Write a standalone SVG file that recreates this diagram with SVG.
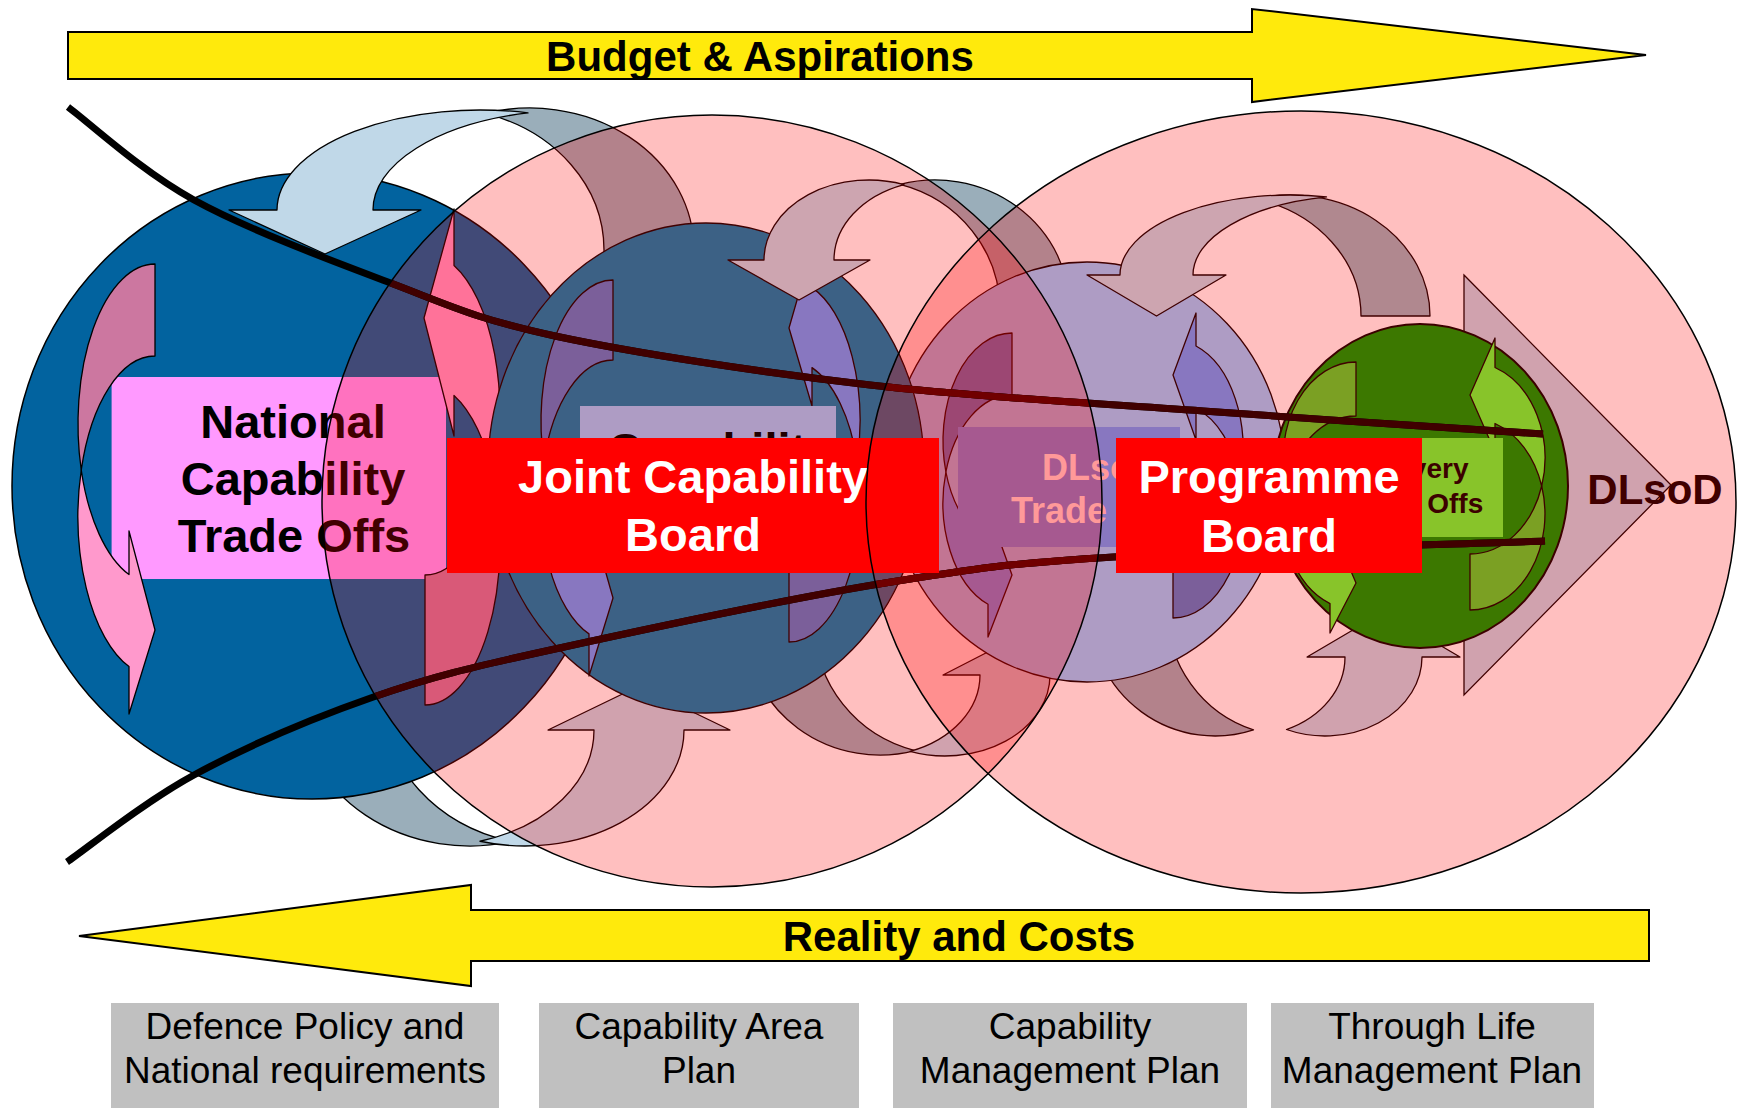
<svg xmlns="http://www.w3.org/2000/svg" width="1739" height="1108" viewBox="0 0 1739 1108">
<style>
text{font-family:"Liberation Sans",Arial,Helvetica,sans-serif}
.bd{font-weight:bold}
.k{stroke:#000;stroke-width:1.3;stroke-linejoin:round}
.m{stroke:#400000;stroke-width:1.3;stroke-linejoin:round}
.lb{fill:#C0D8E8}
.sl{fill:#9AAEBA}
.ml{fill:#CDA5B0}
.md{fill:#B0888F}
.pl{fill:#FF99CC}
.pd{fill:#CC77A0}
.vl{fill:#8877C0}
.vd{fill:#7B5F9A}
.gl{fill:#88C42A}
.gd{fill:#7BA023}
.red25{fill:#FF0000;fill-opacity:0.25}
.edge{fill:none;stroke:#000;stroke-width:1.5}
.ln{fill:none;stroke-width:7}
.yel{fill:#FFEA0C;stroke:#000;stroke-width:2}
.gray{fill:#C0C0C0}
.board{fill:#FF0000}
.plan{font-size:37px;fill:#000}
.big{font-size:47px;font-weight:bold}
</style>
<defs>
<ellipse id="eMid" cx="712" cy="501" rx="390" ry="386"/>
<ellipse id="eRight" cx="1301" cy="502" rx="435" ry="391"/>
<clipPath id="cMid"><ellipse cx="712" cy="501" rx="390" ry="386"/></clipPath>
<clipPath id="cRight"><ellipse cx="1301" cy="502" rx="435" ry="391"/></clipPath>
<clipPath id="cUnion"><ellipse cx="712" cy="501" rx="390" ry="386"/><ellipse cx="1301" cy="502" rx="435" ry="391"/></clipPath>
<clipPath id="cCap"><ellipse cx="706" cy="468" rx="218" ry="245"/></clipPath>
<path id="topCurve" d="M68,107 C89,122.5 140.7,170.8 194,200 C247.3,229.2 327.8,259.3 388,282 C448.2,304.7 474.7,318.8 555,336 C635.3,353.2 762,372.5 870,385 C978,397.5 1090.8,402.8 1203,411 C1315.2,419.2 1486.3,430.2 1543,434"/>
<path id="botCurve" d="M67,862 C88.2,847.5 143.2,802.5 194,775 C244.8,747.5 311.8,718.5 372,697.5 C432.2,676.5 469.5,667.7 555,649 C640.5,630.3 792,598 885,583 C978,568 1003,564 1113,557 C1223,550 1473,543.7 1545,541"/>
</defs>

<g id="budget-arrow">
<path class="yel" d="M68,32 H1252 V9 L1646,55 L1252,102 V79 H68 Z"/>
<text class="bd" x="760" y="71" font-size="42" text-anchor="middle">Budget &amp; Aspirations</text>
</g>
<g id="reality-arrow">
<path class="yel" d="M1649,910 H471 V885 L79,936 L471,986 V961 H1649 Z"/>
<text class="bd" x="959" y="951" font-size="42" text-anchor="middle">Reality and Costs</text>
</g>

<g id="plan-defence">
<rect class="gray" x="111" y="1003" width="388" height="105"/>
<text class="plan" x="305" y="1039" text-anchor="middle">Defence Policy and</text>
<text class="plan" x="305" y="1083" text-anchor="middle">National requirements</text>
</g>
<g id="plan-capability-area">
<rect class="gray" x="539" y="1003" width="320" height="105"/>
<text class="plan" x="699" y="1039" text-anchor="middle">Capability Area</text>
<text class="plan" x="699" y="1083" text-anchor="middle">Plan</text>
</g>
<g id="plan-capability-management">
<rect class="gray" x="893" y="1003" width="354" height="105"/>
<text class="plan" x="1070" y="1039" text-anchor="middle">Capability</text>
<text class="plan" x="1070" y="1083" text-anchor="middle">Management Plan</text>
</g>
<g id="plan-through-life">
<rect class="gray" x="1271" y="1003" width="323" height="105"/>
<text class="plan" x="1432" y="1039" text-anchor="middle">Through Life</text>
<text class="plan" x="1432" y="1083" text-anchor="middle">Management Plan</text>
</g>

<g id="cycle-b-back"><path class="sl k" d="M511.5,841.58 A170,146 0 0 1 300,700 L383,700 A170,146 0 0 0 511.5,841.58 Z"/></g>

<g id="national-circle">
<ellipse cx="312" cy="486" rx="300" ry="313" fill="#02639F" stroke="#000" stroke-width="1.5"/>
</g>

<g id="cycle-a">
<path class="sl k" d="M485,113.45 A164,142 0 0 1 694,250 L694,262 L604,262 L604,250 A164,142 0 0 0 485,113.45 Z"/>
<path class="lb k" d="M528,112.84 A203,100 0 0 0 277,210 L229,210 L325,254 L421,210 L373,210 A203,100 0 0 1 528,112.84 Z"/>
</g>
<g id="cycle-b-front">
<path class="lb k" d="M480,841.25 A159,116 0 0 0 684,730 L730,730 L639,686 L548,730 L594,730 A159,116 0 0 1 480,841.25 Z"/>
</g>
<g id="cycle-c-back"><path class="sl k" d="M900,184.44 A135,130 0 0 1 1070,310 L1000,310 A135,130 0 0 0 900,184.44 Z"/></g>
<g id="cycle-d">
<path class="sl k" d="M915,750.56 A135,130 0 0 1 745,625 L815,625 A135,130 0 0 0 915,750.56 Z"/>
<path class="lb k" d="M910,751.37 A105,81 0 0 0 1050,675 L1087,675 L1015,638 L943,675 L980,675 A105,81 0 0 1 910,751.37 Z"/>
</g>
<g id="cycle-f">
<path class="sl k" d="M1253.5,729.87 A125,126 0 0 1 1090,610 L1167,610 A125,126 0 0 0 1253.5,729.87 Z"/>
<path class="lb k" d="M1286.5,729.51 A97,79 0 0 0 1422,657 L1460,657 L1383.5,612 L1307,657 L1345,657 A97,79 0 0 1 1286.5,729.51 Z"/>
</g>

<g id="national-trade-offs">
<rect x="111.6" y="377" width="334.4" height="202" fill="#FF99FF"/>
<text class="big" x="293" y="438" text-anchor="middle" fill="#000">National</text>
<text class="big" x="293" y="495" text-anchor="middle" fill="#000">Capability</text>
<text class="big" x="294" y="552" text-anchor="middle" fill="#000">Trade Offs</text>
</g>
<g id="national-arrows">
<path class="pd k" d="M155,264 A77,160 0 0 0 81.25,470 A77,160 0 0 1 155,356 Z"/>
<path class="pl k" d="M81.25,470 A77,160 0 0 0 129,666.6 L129,714 L155,630 L129,531 L129,574.6 A77,160 0 0 1 81.25,470 Z"/>
<path class="pd k" d="M493.6,479 A75,161 0 0 1 425,705 L425,575 A75,161 0 0 0 493.6,479 Z"/>
<path class="pl k" d="M454,265.5 A75,161 0 0 1 493.6,479 A75,161 0 0 0 454,395.5 L454,436 L424,318 L454,209 Z"/>
</g>

<g id="dlsod-arrow">
<path d="M1464,275 L1671,485 L1464,695 Z" fill="#C0D8E8" stroke="#000" stroke-width="1.3"/>
<text class="bd" x="1655" y="504" font-size="42" text-anchor="middle" fill="#000">DLsoD</text>
</g>

<use href="#eRight" class="red25"/>

<g id="dlsod-circle">
<ellipse cx="1087" cy="472" rx="198" ry="210" fill="#AE9CC4" stroke="#400000" stroke-width="1.3"/>
<path class="vd m" d="M1012,333 A69,108 0 0 0 945.9,472 A69,108 0 0 1 1012,395 Z"/>
<path class="vl m" d="M945.9,472 A69,108 0 0 0 988,604.3 L988,637 L1012,575 L988,508 L988,542.3 A69,108 0 0 1 945.9,472 Z"/>
<path class="vd m" d="M1240.06,479 A70,108 0 0 1 1173,618 L1173,556 A70,108 0 0 0 1240.06,479 Z"/>
<path class="vl m" d="M1196,346 A70,108 0 0 1 1240.06,479 A70,108 0 0 0 1196,408 L1196,440 L1173,375 L1196,313 Z"/>
<rect x="958" y="427" width="222" height="120" fill="#8877C0"/>
</g>

<g id="delivery-circle">
<ellipse cx="1420" cy="486" rx="148" ry="162" fill="#3C7800" stroke="#3C0000" stroke-width="2"/>
<path class="gd m" d="M1356,362 A73,97 0 0 0 1285.9,486 A73,97 0 0 1 1356,416 Z"/>
<path class="gl m" d="M1285.9,486 A73,97 0 0 0 1330,603.6 L1330,633 L1356,583 L1330,522 L1330,549.6 A73,97 0 0 1 1285.9,486 Z"/>
<path class="gd m" d="M1541.7,486 A75,96 0 0 1 1470,610 L1470,554 A75,96 0 0 0 1541.7,486 Z"/>
<path class="gl m" d="M1495,367.5 A75,96 0 0 1 1541.7,486 A75,96 0 0 0 1495,423.5 L1495,452 L1470,395 L1495,338 Z"/>
<rect x="1325" y="438" width="178" height="99" fill="#88C42A"/>
<text class="bd" x="1414" y="478" font-size="28" text-anchor="middle" fill="#3C0000">Delivery</text>
<text class="bd" x="1414" y="513" font-size="28" text-anchor="middle" fill="#3C0000">Trade Offs</text>
</g>

<use href="#eMid" class="red25"/>

<g id="dlsod-trade-offs-text">
<text class="bd" x="1100" y="480" font-size="36" text-anchor="middle" fill="#FF9999">DLsoD</text>
<text class="bd" x="1100" y="523" font-size="36" text-anchor="middle" fill="#FF9999">Trade Offs</text>
</g>

<g id="capability-circle">
<ellipse cx="706" cy="468" rx="218" ry="245" fill="#3C6185" stroke="#400000" stroke-width="1.3"/>
<path class="vd m" d="M613,280 A72,141 0 0 0 543.96,461 A72,141 0 0 1 613,360 Z"/>
<path class="vl m" d="M543.96,461 A72,141 0 0 0 589,633.9 L589,676 L613,598 L589,513 L589,553.9 A72,141 0 0 1 543.96,461 Z"/>
<path class="vd m" d="M857.08,461 A71,141 0 0 1 789,642 L789,562 A71,141 0 0 0 857.08,461 Z"/>
<path class="vl m" d="M812,287.6 A71,141 0 0 1 857.08,461 A71,141 0 0 0 812,367.6 L812,406 L789,328 L812,248 Z"/>
<rect x="580" y="406" width="256" height="100" fill="#AE9CC4"/>
<text class="big" x="720" y="466" text-anchor="middle" fill="#200000">Capability</text>
</g>
<use href="#eRight" class="red25" clip-path="url(#cCap)"/>

<g id="cycle-c-front">
<path class="ml m" d="M904,184.57 A105,80 0 0 0 764,260 L728,260 L799,300 L870,260 L834,260 A105,80 0 0 1 904,184.57 Z"/>
</g>
<g id="cycle-e">
<path class="md m" d="M1255.5,198.73 A140,121 0 0 1 1430,316 L1361,316 A140,121 0 0 0 1255.5,198.73 Z"/>
<path class="ml m" d="M1326.5,196.87 A170,80 0 0 0 1120,275 L1087,275 L1156.5,316 L1226,275 L1193,275 A170,80 0 0 1 1326.5,196.87 Z"/>
</g>

<g id="connectors">
<use href="#topCurve" class="ln" stroke="#000"/>
<use href="#botCurve" class="ln" stroke="#000"/>
<g clip-path="url(#cUnion)">
<use href="#topCurve" class="ln" stroke="#400000"/>
<use href="#botCurve" class="ln" stroke="#400000"/>
</g>
<g clip-path="url(#cMid)"><g clip-path="url(#cRight)">
<use href="#topCurve" class="ln" stroke="#700000"/>
<use href="#botCurve" class="ln" stroke="#700000"/>
</g></g>
</g>

<g id="joint-capability-board">
<rect class="board" x="447" y="438" width="492" height="135"/>
<text class="big" x="693" y="493" text-anchor="middle" fill="#FFF">Joint Capability</text>
<text class="big" x="693" y="551" text-anchor="middle" fill="#FFF">Board</text>
</g>
<g id="programme-board">
<rect class="board" x="1116" y="438" width="306" height="135"/>
<text class="big" x="1269" y="493" text-anchor="middle" fill="#FFF">Programme</text>
<text class="big" x="1269" y="552" text-anchor="middle" fill="#FFF">Board</text>
</g>

<g id="region-outlines">
<use href="#eMid" class="edge"/>
<use href="#eRight" class="edge"/>
</g>
</svg>
